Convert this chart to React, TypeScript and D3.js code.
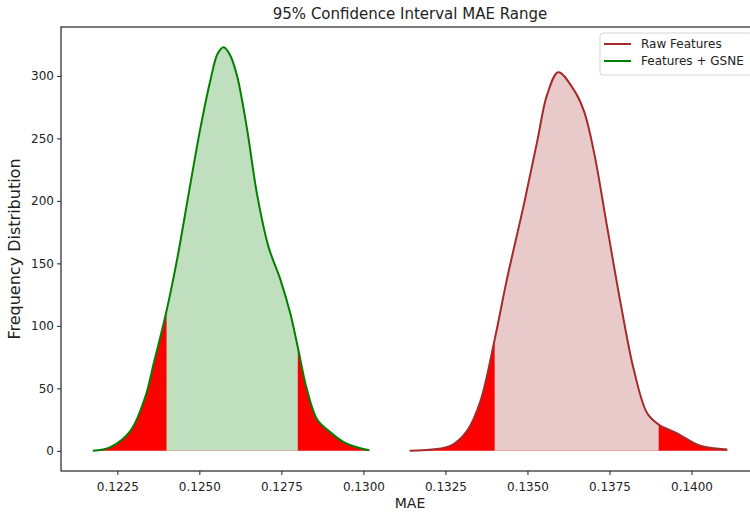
import React, { useEffect, useRef } from "react";
import * as d3 from "d3";

// MAE samples
const gsneMae = [
  0.12175, 0.12229, 0.1229, 0.12335, 0.12361, 0.124, 0.12432, 0.12467, 0.12503,
  0.12534, 0.12556, 0.12574, 0.12593, 0.12615, 0.12645, 0.12676, 0.12711,
  0.12747, 0.12777, 0.128, 0.12828, 0.12859, 0.12894, 0.1294, 0.12991, 0.13018,
];
const gsneFreq = [
  0, 3, 16, 43, 70, 112, 153, 205, 258, 297, 318, 323, 317, 300, 258, 205, 163,
  137, 110, 83, 49, 25, 16, 7, 2, 0.5,
];
const rawMae = [
  0.13141, 0.13265, 0.13316, 0.13357, 0.134, 0.13438, 0.13489, 0.1353, 0.1356,
  0.13594, 0.13641, 0.13672, 0.13702, 0.13743, 0.13784, 0.13824, 0.13865,
  0.139, 0.13956, 0.14027, 0.14109,
];
const rawFreq = [
  0, 4, 16, 40, 89, 138, 197, 248, 285, 303, 289, 272, 240, 179, 118, 65, 30,
  21, 14, 4, 1,
];
const gsneCI = [0.124, 0.128];
const rawCI = [0.134, 0.139];

const xTicks = [0.1225, 0.125, 0.1275, 0.13, 0.1325, 0.135, 0.1375, 0.14];
const yTicks = [0, 50, 100, 150, 200, 250, 300];

const seriesNames = ["Raw Features", "Features + GSNE"];
const lineColors = ["#a52a2a", "#008000"];
const fillColors = ["#e8caca", "#bfdfbf"];

const W = 750;
const H = 512;
const margin = { top: 27, right: W - 759, bottom: H - 471, left: 61 };

export default function App() {
  const ref = useRef<SVGSVGElement>(null);

  useEffect(() => {
    document.body.style.margin = "0";
    const svg = d3.select(ref.current);
    svg.selectAll("*").remove();

    const font = "DejaVu Sans, sans-serif";
    const allX = gsneMae.concat(rawMae);
    const xMin = d3.min(allX) as number;
    const xMax = d3.max(allX) as number;
    const yMax = Math.max(d3.max(gsneFreq) as number, d3.max(rawFreq) as number);
    const xPad = (xMax - xMin) * 0.05;

    const x = d3.scaleLinear()
      .domain([xMin - xPad, xMax + xPad])
      .range([margin.left, W - margin.right]);
    const y = d3.scaleLinear()
      .domain([-yMax * 0.05, yMax * 1.05])
      .range([H - margin.bottom, margin.top]);

    const defs = svg.append("defs");
    defs.append("clipPath").attr("id", "plotclip")
      .append("rect")
      .attr("x", margin.left).attr("y", margin.top)
      .attr("width", W - margin.left - margin.right)
      .attr("height", H - margin.top - margin.bottom);

    const series = [
      { name: seriesNames[0], xs: rawMae, ys: rawFreq, ci: rawCI, line: lineColors[0], fill: fillColors[0] },
      { name: seriesNames[1], xs: gsneMae, ys: gsneFreq, ci: gsneCI, line: lineColors[1], fill: fillColors[1] },
    ];

    const plot = svg.append("g").attr("clip-path", "url(#plotclip)");
    const curve = d3.curveCatmullRom.alpha(0.5);

    series.forEach((s, i) => {
      const pts: [number, number][] = s.xs.map((v, j) => [v, s.ys[j]]);
      const area = d3.area<[number, number]>()
        .x((d) => x(d[0]))
        .y0(y(0))
        .y1((d) => y(d[1]))
        .curve(curve);
      const line = d3.line<[number, number]>()
        .x((d) => x(d[0]))
        .y((d) => y(d[1]))
        .curve(curve);

      const cid = "ci" + i;
      defs.append("clipPath").attr("id", cid)
        .append("rect")
        .attr("x", x(s.ci[0])).attr("y", 0)
        .attr("width", x(s.ci[1]) - x(s.ci[0]))
        .attr("height", H);

      // tails in red, middle in light shade
      plot.append("path").attr("d", area(pts)).attr("fill", "#ff0000");
      plot.append("path").attr("d", area(pts)).attr("fill", s.fill)
        .attr("clip-path", "url(#" + cid + ")");
      plot.append("path").attr("d", line(pts))
        .attr("fill", "none").attr("stroke", s.line).attr("stroke-width", 2);
    });

    // frame
    svg.append("rect")
      .attr("x", margin.left).attr("y", margin.top)
      .attr("width", W - margin.left - margin.right)
      .attr("height", H - margin.top - margin.bottom)
      .attr("fill", "none").attr("stroke", "#222").attr("stroke-width", 1.2);

    const xAxis = svg.append("g")
      .attr("transform", "translate(0," + (H - margin.bottom) + ")")
      .call(d3.axisBottom(x).tickValues(xTicks).tickFormat(d3.format(".4f")).tickSizeOuter(0).tickSize(4));
    const yAxis = svg.append("g")
      .attr("transform", "translate(" + margin.left + ",0)")
      .call(d3.axisLeft(y).tickValues(yTicks).tickSizeOuter(0).tickSize(4));
    [xAxis, yAxis].forEach((a) => {
      a.select(".domain").remove();
      a.selectAll("line").attr("stroke", "#222");
      a.selectAll("text").attr("font-family", font).attr("font-size", 12).attr("fill", "#222");
    });
    xAxis.selectAll("text").attr("dy", "1.05em");
    yAxis.selectAll("text").attr("x", -7);

    svg.append("text")
      .attr("x", (margin.left + W - margin.right) / 2).attr("y", 19)
      .attr("text-anchor", "middle")
      .attr("font-family", font).attr("font-size", 15).attr("fill", "#222")
      .text("95% Confidence Interval MAE Range");

    svg.append("text")
      .attr("x", (margin.left + W - margin.right) / 2).attr("y", 508)
      .attr("text-anchor", "middle")
      .attr("font-family", font).attr("font-size", 14).attr("fill", "#222")
      .text("MAE");

    svg.append("text")
      .attr("transform", "translate(20," + (margin.top + H - margin.bottom) / 2 + ") rotate(-90)")
      .attr("text-anchor", "middle")
      .attr("font-family", font).attr("font-size", 16).attr("fill", "#222")
      .text("Frequency Distribution");

    // legend
    const lg = svg.append("g").attr("transform", "translate(600,33)");
    lg.append("rect")
      .attr("x", 0).attr("y", 0).attr("width", 152).attr("height", 42).attr("rx", 3)
      .attr("fill", "#fff").attr("fill-opacity", 0.85)
      .attr("stroke", "#d6d6d6");
    series.forEach((s, i) => {
      const cy = 11 + i * 17;
      lg.append("line")
        .attr("x1", 4).attr("x2", 31).attr("y1", cy).attr("y2", cy)
        .attr("stroke", s.line).attr("stroke-width", 2);
      lg.append("text")
        .attr("x", 41).attr("y", cy).attr("dy", "0.35em")
        .attr("font-family", font).attr("font-size", 12).attr("fill", "#222")
        .text(s.name);
    });
  }, []);

  return (
    <svg ref={ref} width={W} height={H} style={{ display: "block", background: "#fff" }} />
  );
}
